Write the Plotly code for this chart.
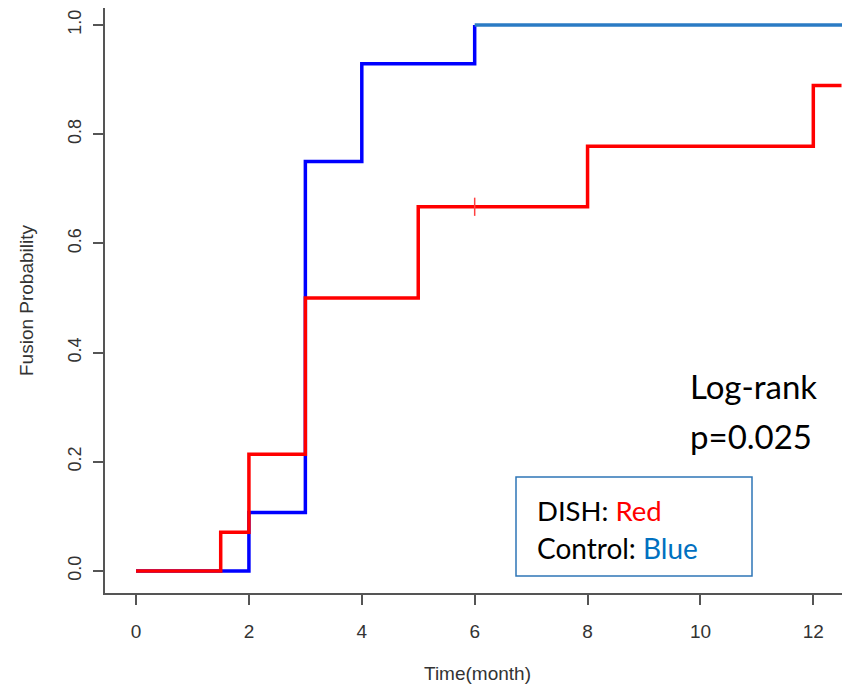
import plotly.graph_objects as go

# ---- data ----
dish_time = [0, 1.5, 2, 3, 5, 8, 12, 12.5]
dish_prob = [0, 0.071, 0.214, 0.5, 0.667, 0.778, 0.889, 0.889]
dish_censor_time = [6]
dish_censor_prob = [0.667]

control_time = [0, 2, 3, 4, 6]
control_prob = [0, 0.107, 0.75, 0.929, 1.0]
control_tail_time = [6, 12.55]
control_tail_prob = [1.0, 1.0]

x_ticks = [0, 2, 4, 6, 8, 10, 12]
y_ticks = [0.0, 0.2, 0.4, 0.6, 0.8, 1.0]

RED = "#FF0000"
BLUE = "#0000FF"
TAIL_BLUE = "#2B7BC4"

fig = go.Figure()
fig.add_trace(go.Scatter(x=control_time, y=control_prob, mode="lines",
                         line=dict(color=BLUE, width=3.5, shape="hv"),
                         name="Control", showlegend=False))
fig.add_trace(go.Scatter(x=control_tail_time, y=control_tail_prob, mode="lines",
                         line=dict(color=TAIL_BLUE, width=3.5, shape="hv"),
                         name="Control", showlegend=False))
fig.add_trace(go.Scatter(x=dish_time, y=dish_prob, mode="lines",
                         line=dict(color=RED, width=3.5, shape="hv"),
                         name="DISH", showlegend=False))
fig.add_trace(go.Scatter(x=dish_censor_time, y=dish_censor_prob, mode="markers",
                         marker=dict(symbol="line-ns-open", size=13, color="#FF4040",
                                     line=dict(color="#FF4040", width=1.5)),
                         name="censored", showlegend=False))

axis_col = "#555555"
txt_col = "#333333"
font_family = "Liberation Sans, Arial, sans-serif"

fig.update_xaxes(range=[-0.55, 12.65], tickvals=x_ticks, ticks="outside",
                 ticklen=10, tickwidth=1.5, tickcolor=axis_col,
                 showline=True, linecolor=axis_col, linewidth=1.5,
                 showgrid=False, zeroline=False,
                 tickfont=dict(family=font_family, size=19, color=txt_col),
                 ticklabelstandoff=10,
                 title=dict(text="Time(month)", standoff=26,
                            font=dict(family=font_family, size=19, color=txt_col)))
fig.update_yaxes(range=[-0.0403, 1.031], tickvals=y_ticks, tickformat=".1f",
                 ticks="outside", ticklen=10, tickwidth=1.5, tickcolor=axis_col,
                 showline=True, linecolor=axis_col, linewidth=1.5,
                 showgrid=False, zeroline=False, tickangle=-90,
                 tickfont=dict(family=font_family, size=18, color=txt_col),
                 ticklabelstandoff=5,
                 title=dict(text="Fusion Probability", standoff=26,
                            font=dict(family=font_family, size=19, color=txt_col)))

# figure sits 8px inside the page (default body margin); work in screen px
OFF = 8
FIG_W, FIG_H = 850 - OFF, 688 - OFF
S_L, S_R, S_T, S_B = 105, 850, 8, 593   # plot area in screen pixels


def px(xs):
    return (xs - S_L) / (S_R - S_L)


def py(ys):
    return (S_B - ys) / (S_B - S_T)


big_font = "Lato, Open Sans, sans-serif"
fig.add_annotation(xref="paper", yref="paper", x=px(688), y=py(386),
                   xanchor="left", yanchor="middle", showarrow=False,
                   text="Log-rank", font=dict(family=big_font, size=33, color="#000000"))
fig.add_annotation(xref="paper", yref="paper", x=px(688), y=py(436),
                   xanchor="left", yanchor="middle", showarrow=False,
                   text="p=0.025", font=dict(family=big_font, size=33, color="#000000"))

fig.add_shape(type="rect", xref="paper", yref="paper",
              x0=px(516), x1=px(752), y0=py(576), y1=py(477),
              line=dict(color="#2E75B6", width=1.5), fillcolor="rgba(0,0,0,0)")
fig.add_annotation(xref="paper", yref="paper", x=px(535), y=py(510),
                   xanchor="left", yanchor="middle", showarrow=False,
                   text="DISH: <span style='color:#FF0000'>Red</span>",
                   font=dict(family=big_font, size=27.5, color="#000000"))
fig.add_annotation(xref="paper", yref="paper", x=px(535), y=py(548),
                   xanchor="left", yanchor="middle", showarrow=False,
                   text="Control: <span style='color:#0070C0'>Blue</span>",
                   font=dict(family=big_font, size=28, color="#000000"))

fig.update_layout(width=FIG_W, height=FIG_H,
                  margin=dict(l=S_L - OFF, r=850 - S_R, t=S_T - OFF, b=688 - S_B),
                  plot_bgcolor="white", paper_bgcolor="white")

fig.write_html("out.html")
